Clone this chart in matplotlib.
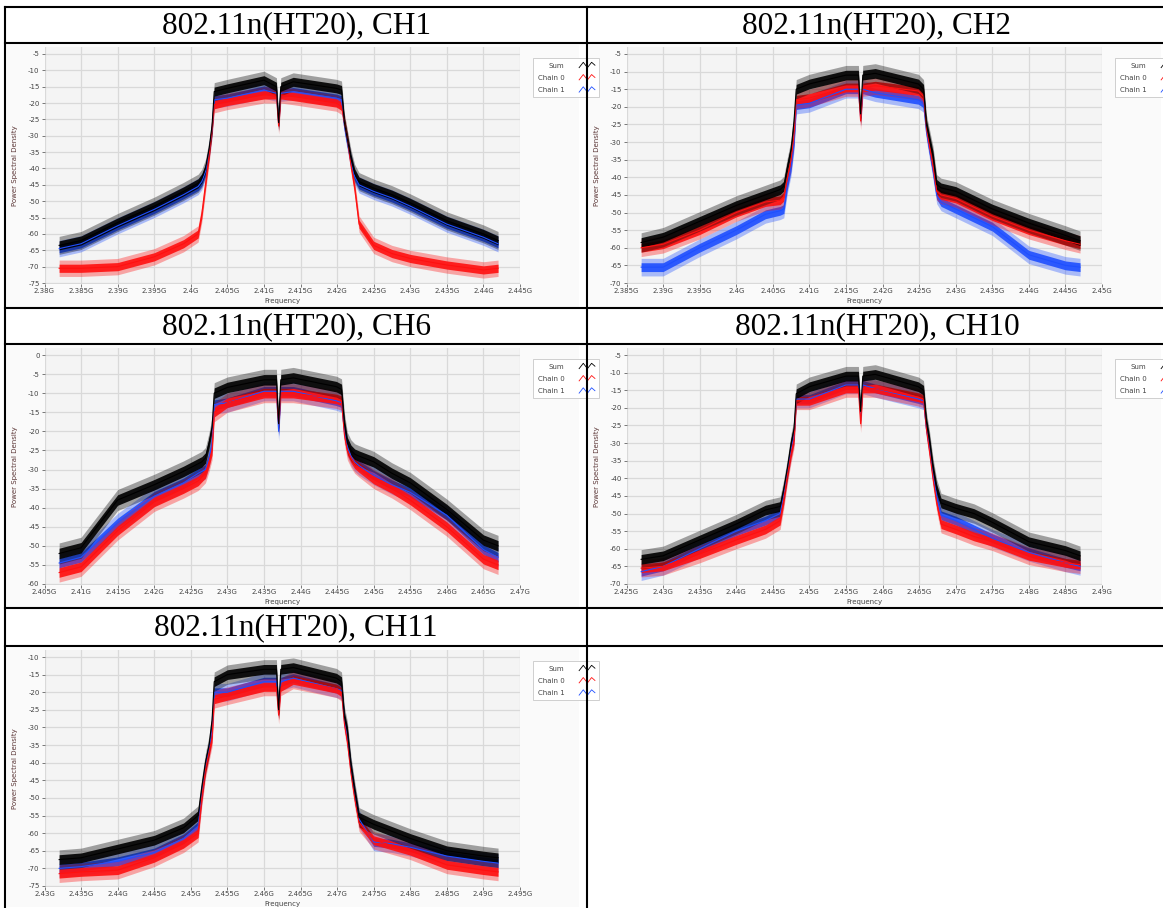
import matplotlib
matplotlib.use("Agg")
import matplotlib.pyplot as plt
import numpy as np
from matplotlib.lines import Line2D
from matplotlib.patches import Rectangle
from matplotlib.legend_handler import HandlerBase
from matplotlib.ticker import MultipleLocator, FuncFormatter

plt.rcParams['axes.unicode_minus'] = False

W, H = 1163, 908

# panel titles and axis ranges
titles = ["802.11n(HT20), CH1", "802.11n(HT20), CH2", "802.11n(HT20), CH6",
          "802.11n(HT20), CH10", "802.11n(HT20), CH11"]
center_mhz = [2412, 2417, 2437, 2457, 2462]
x_min = [2.38, 2.385, 2.405, 2.425, 2.43]
x_max = [2.445, 2.45, 2.47, 2.49, 2.495]
y_min = [-75, -70, -60, -70, -75]
y_max = [-5, -5, 0, -5, -10]

series_names = ["Sum", "Chain 0", "Chain 1"]

# frequency offsets from channel centre (MHz) where the traces were read
offsets_mhz = [-30, -27, -22, -17, -13, -11, -10.5, -10, -9.5, -9.1, -8.8, -7, -2,
               -0.3, 0, 0.3, 2, 7.9, 8.6, 9.0, 9.4, 9.9, 10.4, 11, 13, 15.5, 18, 23, 28, 30]

# PSD levels (dB), middle of the noisy trace
ch1_sum = [-63.5, -62, -56.5, -51.5, -47, -44.5, -43, -40, -34, -27, -16.5, -15.5, -13,
           -15, -26, -15, -13.5, -15.5, -16, -26, -31, -37, -41.5, -44, -46, -48, -50.5, -56, -60, -62]
ch1_c0 = [-70.5, -70.5, -70, -67, -63, -60, -54, -45, -36, -28, -20.5, -19.5, -17.5,
          -17.5, -27, -17.5, -18, -20, -21, -26, -31, -39, -46, -57, -63.5, -66, -67.5, -69.5, -71, -70.5]
ch1_c1 = [-64.5, -63, -57.5, -52.5, -48, -45.5, -44, -41, -35, -28, -19, -18.5, -16,
          -17, -26, -17, -16.5, -18.5, -19, -27, -32, -38, -42.5, -45, -47, -49, -51.5, -57, -61, -63]

ch2_sum = [-58.5, -57, -52.5, -48, -45, -43.5, -42.5, -37, -32, -24, -15, -13.5, -11,
           -11, -22, -11, -10.5, -13.5, -15, -25, -29, -34, -42, -43, -44, -46.5, -49, -53, -56.5, -58]
ch2_c0 = [-60, -59, -55, -50, -47, -46.5, -45.5, -40, -35, -28, -18, -17.5, -14.5,
          -14.5, -24, -14.5, -14, -15.5, -17, -26, -31, -37, -44, -45, -46, -48.5, -51, -55, -58, -59]
ch2_c1 = [-65.5, -65.5, -60, -55, -50.5, -49.5, -49, -42, -37, -30, -19.5, -19, -15,
          -15, -23, -15, -16, -18, -19, -27, -32, -38, -45, -47, -49, -51.5, -54, -62, -65, -65.5]

ch6_sum = [-52, -50.5, -38, -34, -30.5, -28.5, -28, -27, -23, -19, -10, -8.5, -6.5,
           -6.5, -18, -6.5, -6, -8.3, -9, -18, -23, -25, -26, -26.5, -28, -31, -33.5, -40.5, -48.5, -50]
ch6_c0 = [-57, -55.5, -46, -38.5, -35, -33, -32, -31, -28, -25, -15, -12.5, -10,
          -10, -18, -10, -10, -11.5, -12, -21, -25, -27, -28.5, -29.5, -32.5, -35, -38, -45, -53.5, -55]
ch6_c1 = [-54.5, -53, -44, -37, -33.5, -31, -30.5, -30, -27, -23, -13, -12.5, -9.5,
          -9.5, -20, -9.5, -9.5, -12, -12.5, -20, -24, -26.5, -28, -29, -31.5, -34, -36, -42, -51, -53]

ch10_sum = [-63, -62, -57.5, -53, -49, -48, -43, -37, -30, -26, -16, -14, -11,
            -11, -21, -11, -10.5, -14, -15, -24, -29, -37, -43, -47, -48.5, -50, -52.5, -58, -60.5, -62]
ch10_c0 = [-65.5, -65, -61.5, -57.5, -54.5, -52, -46, -39, -33, -29, -18, -18, -14.5,
           -14.5, -24.5, -14.5, -14.5, -17, -17.5, -26, -32, -40, -47, -53, -54.5, -56.5, -58, -62, -64, -64.5]
ch10_c1 = [-66.5, -65, -60, -55, -52, -50, -45, -38, -32, -28, -17.5, -17.5, -13.5,
           -13.5, -22, -13.5, -14.5, -17.5, -18, -26, -31, -39, -45, -50.5, -52, -54.5, -57, -61, -64, -65]

ch11_sum = [-67.5, -67, -64.5, -62, -58.5, -55, -47, -40, -35, -28, -17, -15, -13.5,
            -13.5, -25, -13.5, -13, -16, -17, -27, -31, -41, -48, -55.5, -57.5, -59.5, -61.5, -65, -66.5, -67]
ch11_c0 = [-71.5, -71, -70.5, -67, -63, -60, -50, -42, -37, -33, -22, -21, -18.5,
           -18.5, -26.5, -18.5, -16.5, -19, -20, -29, -34, -43, -50, -57, -62, -63.5, -65, -69, -70.5, -71]
ch11_c1 = [-70, -69.5, -68, -65.5, -61.5, -58, -49, -41, -36, -31, -20, -20, -17,
           -17, -25, -17, -16, -19, -19.5, -28, -33, -42, -49, -56, -62.5, -63, -64, -66.5, -68, -68.5]

# peak-to-peak width of the noise band (dB)
noise_sum = 5.5
noise_c0 = 5.0
noise_c1 = 5.0

panels = [
    (ch1_sum, ch1_c0, ch1_c1),
    (ch2_sum, ch2_c0, ch2_c1),
    (ch6_sum, ch6_c0, ch6_c1),
    (ch10_sum, ch10_c0, ch10_c1),
    (ch11_sum, ch11_c0, ch11_c1),
]

# table layout (pixels)
col_left = [5, 587]
row_top = [7, 308, 608]
row_title_bottom = [43, 344, 646]
row_bottom = [308, 608, 908]
cells = [(0, 0), (1, 0), (0, 1), (1, 1), (0, 2)]

colors = {"Sum": "#000000", "Chain 0": "#ff1010", "Chain 1": "#1f4fff"}
noise = {"Sum": noise_sum, "Chain 0": noise_c0, "Chain 1": noise_c1}


class ZigZag(HandlerBase):
    # little "/\/" icon like the LabVIEW plot legend
    def create_artists(self, legend, orig_handle, xdescent, ydescent,
                       width, height, fontsize, trans):
        xs = np.array([0.05, 0.3, 0.55, 0.8, 1.0]) * width - xdescent
        ys = np.array([0.0, 1.1, 0.0, 1.1, 0.5]) * height - ydescent
        ln = Line2D(xs, ys, color=orig_handle.get_color(), lw=0.6, transform=trans)
        return [ln]


def fx(px):
    return px / W


def fy(py):
    return 1 - py / H


fig = plt.figure(figsize=(W / 100, H / 100), dpi=100)
fig.patch.set_facecolor("white")

for i, (col, row) in enumerate(cells):
    cx = col_left[col]
    cy = row_title_bottom[row]

    # title row text
    cx_mid = (col_left[col] + (col_left[1] if col == 0 else 1163 + 4)) / 2
    fig.text(fx(cx_mid), fy((row_top[row] + row_title_bottom[row]) / 2 + 1), titles[i],
             ha="center", va="center", fontsize=22.5, family="Liberation Serif")

    # graph image background
    fig.add_artist(Rectangle((fx(cx + 2), fy(row_bottom[row] - 1)), (576 - 4) / W,
                             (row_bottom[row] - cy - 3) / H, transform=fig.transFigure,
                             facecolor="#fafafa", edgecolor="none", zorder=0))

    tick_top, tick_bot = cy + 11, cy + 240
    scale = (tick_bot - tick_top) / (y_max[i] - y_min[i])
    left, right = cx + 39.5, cx + 515
    top, bottom = cy + 4, cy + 240.5
    ax = fig.add_axes([fx(left), fy(bottom), (right - left) / W, (bottom - top) / H])
    ax.set_facecolor("#f4f4f4")
    ax.set_xlim(x_min[i], x_max[i])
    ax.set_ylim(y_min[i] - 0.5 / scale, y_max[i] + 7 / scale)

    f = (center_mhz[i] + np.array(offsets_mhz)) / 1000.0
    for name, vals in zip(series_names[::-1], panels[i][::-1]):
        v = np.array(vals)
        c = colors[name]
        s = noise[name]
        ax.fill_between(f, v - s / 2, v + s / 2, color=c, alpha=0.35, lw=0)
        ax.fill_between(f, v - s / 4, v + s / 4, color=c, alpha=0.9, lw=0)
        ax.plot(f, v, color=c, lw=0.8, label=name)

    ax.xaxis.set_major_locator(MultipleLocator(0.005))
    ax.yaxis.set_major_locator(MultipleLocator(5))
    ax.xaxis.set_major_formatter(FuncFormatter(lambda v, p: f"{v:g}G"))
    ax.yaxis.set_major_formatter(FuncFormatter(lambda v, p: f"{v:g}"))
    ax.tick_params(labelsize=5, colors="#444444", length=2, width=0.5, pad=1.5)
    ax.grid(True, color="#d9d9d9", lw=0.9)
    ax.set_axisbelow(True)
    for sp in ax.spines.values():
        sp.set_visible(False)

    ax.set_ylabel("Power Spectral Density", fontsize=5, color="#5a3535", labelpad=2)
    ax.yaxis.set_label_coords((cx + 13 - left) / (right - left), 0.5)
    ax.set_xlabel("Frequency", fontsize=5, color="#444444")
    ax.xaxis.set_label_coords(0.5, -(cy + 255 - bottom) / (bottom - top))

    handles, labels = ax.get_legend_handles_labels()
    order = [labels.index(n) for n in series_names]
    leg = ax.legend([handles[k] for k in order], series_names,
                    loc="upper left", bbox_to_anchor=(fx(cx + 525), fy(cy + 12)),
                    bbox_transform=fig.transFigure, fontsize=5, markerfirst=False,
                    frameon=True, fancybox=False, edgecolor="#c8c8c8", framealpha=1,
                    handlelength=2.4, handletextpad=2.0, labelspacing=0.9,
                    borderpad=0.6, handler_map={Line2D: ZigZag()})
    leg.get_frame().set_linewidth(0.6)
    for t in leg.get_texts():
        t.set_color("#444444")

# table borders
lw = 1.5
for y in [7, 43, 308, 344, 608, 646]:
    fig.add_artist(Line2D([fx(5), fx(1163)], [fy(y), fy(y)], color="black", lw=lw,
                          transform=fig.transFigure, zorder=10))
for x in [5, 587]:
    fig.add_artist(Line2D([fx(x), fx(x)], [fy(7), fy(908)], color="black", lw=lw,
                          transform=fig.transFigure, zorder=10))

fig.savefig("out.png", dpi=100)
